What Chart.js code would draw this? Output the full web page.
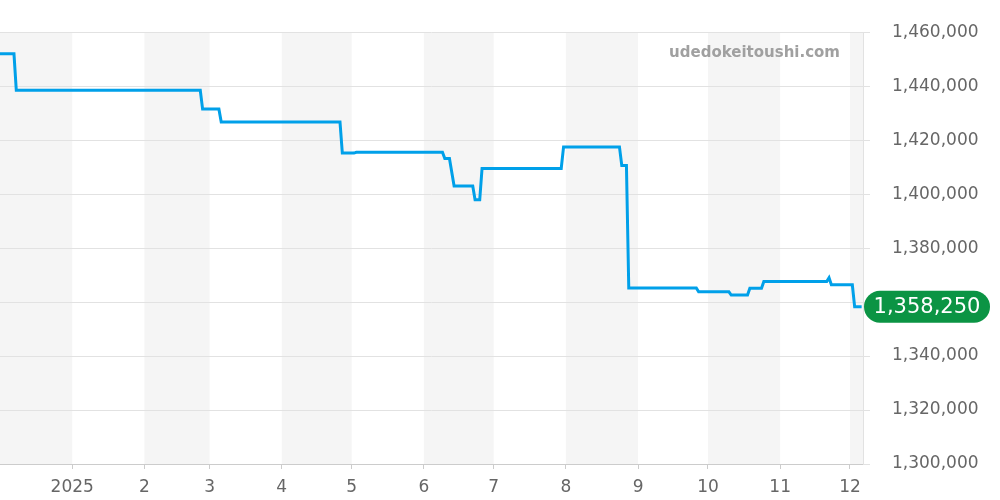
<!DOCTYPE html>
<html>
<head>
<meta charset="utf-8">
<script src="https://cdn.jsdelivr.net/npm/chart.js@4/dist/chart.umd.min.js"></script>
<style>
  body { margin: 0; background: #fff; }
</style>
</head>
<body>
<canvas id="grafico" width="1000" height="500"></canvas>
<script>
// price history (step changes)
const datas = [
    "2024-12-01", "2024-12-07", "2024-12-08", "2025-02-25", "2025-02-26",
    "2025-03-05", "2025-03-06", "2025-04-26", "2025-04-27", "2025-05-02",
    "2025-05-03", "2025-06-09", "2025-06-10", "2025-06-12", "2025-06-14",
    "2025-06-22", "2025-06-23", "2025-06-25", "2025-06-26", "2025-07-30",
    "2025-07-31", "2025-08-24", "2025-08-25", "2025-08-27", "2025-08-28",
    "2025-09-26", "2025-09-27", "2025-10-10", "2025-10-11", "2025-10-18",
    "2025-10-19", "2025-10-24", "2025-10-25", "2025-11-21", "2025-11-22",
    "2025-11-23", "2025-12-02", "2025-12-03", "2025-12-06"
];
const precos = [
    1452000, 1452000, 1438500, 1438500, 1431500,
    1431500, 1426700, 1426700, 1415200, 1415200,
    1415500, 1415500, 1413200, 1413200, 1403000,
    1403000, 1397900, 1397900, 1409500, 1409500,
    1417500, 1417500, 1410600, 1410600, 1365200,
    1365200, 1363800, 1363800, 1362600, 1362600,
    1365100, 1365100, 1367600, 1367600, 1369000,
    1366400, 1366400, 1358250, 1358250
];
const precoAtual = "1,358,250";
const yTicks = [1300000, 1320000, 1340000, 1360000, 1380000, 1400000, 1420000, 1440000, 1460000];

const inicio = Date.UTC(2024, 11, 1);
const fim = Date.UTC(2025, 11, 6, 14);

const fonte = "'DejaVu Sans', sans-serif";

// month starts Dec 2024 .. Jan 2026
const meses = [];
for (let i = 0; i < 14; i++) {
    meses.push(Date.UTC(2024, 11 + i, 1));
}

const pontos = datas.map((d, i) => ({ x: Date.parse(d), y: precos[i] }));

// alternating month bands + watermark + price label
const faixas = {
    id: "faixas",
    beforeDraw(chart) {
        const { ctx, chartArea, scales } = chart;
        ctx.save();
        ctx.beginPath();
        ctx.rect(chartArea.left, chartArea.top, chartArea.right - chartArea.left, chartArea.bottom - chartArea.top);
        ctx.clip();
        ctx.fillStyle = "#f5f5f5";
        for (let i = 0; i < meses.length - 1; i++) {
            const m = new Date(meses[i]).getUTCMonth();
            if (m % 2 === 1 || m === 11) {
                const x1 = scales.x.getPixelForValue(meses[i]);
                const x2 = scales.x.getPixelForValue(meses[i + 1]);
                ctx.fillRect(x1, chartArea.top, x2 - x1, chartArea.bottom - chartArea.top);
            }
        }
        ctx.restore();
    },
    afterDraw(chart) {
        const { ctx, chartArea, scales } = chart;
        ctx.save();
        ctx.font = "bold 15px " + fonte;
        ctx.fillStyle = "#a0a0a0";
        ctx.textAlign = "right";
        ctx.textBaseline = "middle";
        ctx.fillText("udedokeitoushi.com", 840, 53);

        const y = scales.y.getPixelForValue(precos[precos.length - 1]);
        const x = chartArea.right + 1;
        const w = 126, h = 32, r = 16;
        ctx.fillStyle = "#0b9444";
        ctx.beginPath();
        ctx.roundRect(x, y - h / 2, w, h, r);
        ctx.fill();
        ctx.font = "21px " + fonte;
        ctx.fillStyle = "#fff";
        ctx.textAlign = "center";
        ctx.fillText(precoAtual, x + w / 2, y + 1);
        ctx.restore();
    }
};

new Chart(document.getElementById("grafico"), {
    type: "line",
    data: {
        datasets: [{
            data: pontos,
            borderColor: "#00a0e9",
            borderWidth: 3,
            pointRadius: 0,
            tension: 0,
            fill: false
        }]
    },
    options: {
        responsive: false,
        animation: false,
        layout: { padding: { top: 30, left: 0, right: 0, bottom: 0 } },
        plugins: {
            legend: { display: false },
            tooltip: { enabled: false }
        },
        scales: {
            x: {
                type: "linear",
                min: inicio,
                max: fim,
                afterBuildTicks(scale) {
                    scale.ticks = meses.slice(1, 13).map(v => ({ value: v }));
                },
                afterFit(scale) { scale.height = 36; },
                ticks: {
                    autoSkip: false,
                    maxRotation: 0,
                    padding: 8,
                    color: "#666",
                    font: { family: fonte, size: 17 },
                    callback(v) {
                        const d = new Date(v);
                        return d.getUTCMonth() === 0 ? String(d.getUTCFullYear()) : String(d.getUTCMonth() + 1);
                    }
                },
                grid: {
                    drawOnChartArea: false,
                    drawTicks: true,
                    tickLength: 5,
                    color: "#ccc"
                },
                border: { color: "#ccc" }
            },
            y: {
                position: "right",
                min: 1300000,
                max: 1460000,
                afterBuildTicks(scale) {
                    scale.ticks = yTicks.map(v => ({ value: v }));
                },
                afterFit(scale) { scale.width = 137; },
                ticks: {
                    padding: 22,
                    color: "#666",
                    font: { family: fonte, size: 17 },
                    callback: v => v.toLocaleString("en-US")
                },
                grid: {
                    color: "#e2e2e2",
                    tickLength: 7
                },
                border: { color: "#e2e2e2" }
            }
        }
    },
    plugins: [faixas]
});
</script>
</body>
</html>
